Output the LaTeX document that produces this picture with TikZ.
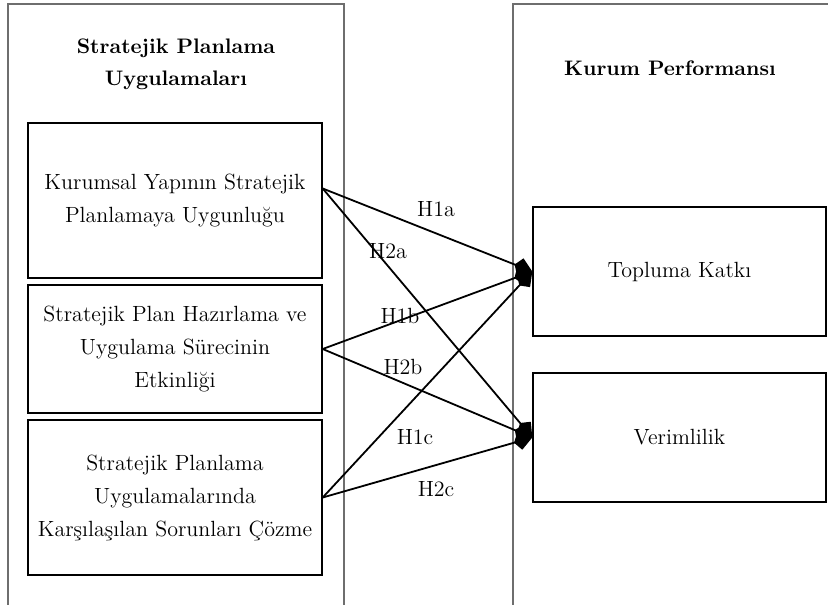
\documentclass[tikz,border=0pt]{standalone}
\usepackage{tikz}
\usetikzlibrary{arrows.meta,positioning,calc}
\usepackage{xcolor}
\definecolor{frame}{HTML}{6E6E6E}

\tikzset{
  varbox/.style={draw=black, line width=0.7pt, inner sep=2pt, align=center,
    minimum width=147pt, font=\fontsize{11}{16.5}\selectfont},
  hyp/.style={-{Kite[length=9.5pt,width=9pt,inset=3pt]}, line width=0.9pt},
  hlabel/.style={font=\fontsize{11}{14}\selectfont, inner sep=1pt},
  heading/.style={font=\fontsize{10.5}{16}\selectfont\bfseries, align=center}
}

\begin{document}
\begin{tikzpicture}[x=0.5pt, y=-0.5pt]
  \useasboundingbox (0,0) rectangle (828,604);

  % outer frames, open at the bottom
  \draw[frame, line width=0.55pt] (8,610) -- (8,4) -- (344,4) -- (344,610);
  \draw[frame, line width=0.55pt] (513,610) -- (513,4) -- (832,4);

  \node[heading] (left) at (176,64) {Stratejik Planlama\\Uygulamaları};
  \node[heading] (right) at (670,68) {Kurum Performansı};

  % independent variables
  \node[varbox, minimum height=77.5pt] (k1) at (175,200.5)
    {Kurumsal Yapının Stratejik\\Planlamaya Uygunluğu};
  \node[varbox, minimum height=64pt] (k2) at (175,349)
    {Stratejik Plan Hazırlama ve\\Uygulama Sürecinin\\Etkinliği};
  \node[varbox, minimum height=77.5pt] (k3) at (175,497.5)
    {Stratejik Planlama\\Uygulamalarında\\Karşılaşılan Sorunları Çözme};

  % dependent variables
  \node[varbox, minimum width=146.5pt, minimum height=64.5pt] (topluma) at (679.5,271.5)
    {Topluma Katkı};
  \node[varbox, minimum width=146.5pt, minimum height=64.5pt] (verim) at (679.5,437.5)
    {Verimlilik};

  \coordinate (s1) at ($(k1.east)+(0,-12)$);

  \draw[hyp] (s1) -- (topluma.west);
  \draw[hyp] (s1) -- (verim.west);
  \draw[hyp] (k2.east) -- (topluma.west);
  \draw[hyp] (k2.east) -- (verim.west);
  \draw[hyp] (k3.east) -- (topluma.west);
  \draw[hyp] (k3.east) -- (verim.west);

  \node[hlabel] (h1a) at (436,209) {H1a};
  \node[hlabel] (h2a) at (388,251) {H2a};
  \node[hlabel] (h1b) at (400,316) {H1b};
  \node[hlabel] (h2b) at (403,367) {H2b};
  \node[hlabel] (h1c) at (415,437) {H1c};
  \node[hlabel] (h2c) at (436,489) {H2c};
\end{tikzpicture}
\end{document}
